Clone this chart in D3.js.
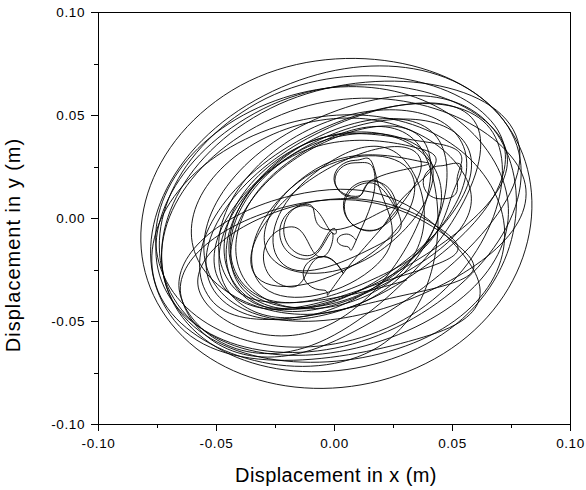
<!DOCTYPE html>
<html>
<head>
<meta charset="utf-8">
<script src="https://cdn.jsdelivr.net/npm/d3@7"></script>
<style>
  body { margin: 0; background: #fff; }
  text { font-family: "Liberation Sans", Arial, Helvetica, sans-serif; fill: #000; }
</style>
</head>
<body>
<svg id="chart" width="586" height="490"></svg>
<script>
var majorTicks = [-0.10, -0.05, 0.00, 0.05, 0.10];
var minorTicks = [-0.075, -0.025, 0.025, 0.075];

// orbit (m); one row per turn
var centreLoops = [
    [0.0094, -0.0108], [0.0054, -0.0078], [0.0014, -0.0108], [0.0054, -0.0138], [0.0094, -0.0108],
    [0.0174, 0.0183], [0.0089, 0.0268], [0.0004, 0.0183], [0.0089, 0.0098], [0.0174, 0.0183],
    [0.0260, 0.0054], [0.0152, 0.0171], [0.0044, 0.0054], [0.0152, -0.0063], [0.0260, 0.0054],
    [-0.0013, -0.0058], [-0.0113, 0.0067], [-0.0213, -0.0058], [-0.0113, -0.0183], [-0.0013, -0.0058],
    [-0.0010, -0.0070], [-0.0120, 0.0060], [-0.0230, -0.0070], [-0.0120, -0.0200], [-0.0010, -0.0070],
    [-0.0059, -0.0189], [-0.0179, -0.0043], [-0.0299, -0.0189], [-0.0179, -0.0335], [-0.0059, -0.0189],
    [0.0039, -0.0269], [-0.0046, -0.0188], [-0.0131, -0.0269], [-0.0046, -0.0350], [0.0039, -0.0269]
];

var innerLoops = [
    [0.0365, 0.0289], [-0.0121, 0.0169], [-0.0325, -0.0289], [0.0161, -0.0169],
    [0.0297, 0.0257], [-0.0184, 0.0144], [-0.0297, -0.0337], [0.0184, -0.0224],
    [0.0180, 0.0195], [0.0090, 0.0280], [0.0000, 0.0190], [0.0092, 0.0105], [0.0180, 0.0195],
    [0.0388, 0.0270], [-0.0078, 0.0237], [-0.0268, -0.0190], [0.0198, -0.0157],
    [0.0372, 0.0335], [-0.0234, 0.0260], [-0.0372, -0.0335], [0.0234, -0.0260],
    [0.0522, 0.0173], [0.0450, 0.0253], [0.0378, 0.0173], [0.0450, 0.0093], [0.0522, 0.0173],
    [0.0414, 0.0365], [-0.0228, 0.0285], [-0.0374, -0.0345], [0.0268, -0.0265]
];

var middleLoops = [
    [0.0369, 0.0321], [-0.0264, 0.0262], [-0.0389, -0.0361], [0.0244, -0.0302],
    [0.0544, 0.0225], [-0.0174, 0.0443], [-0.0584, -0.0185], [0.0134, -0.0403],
    [0.0446, 0.0375], [-0.0224, 0.0282], [-0.0386, -0.0375], [0.0284, -0.0282],
    [0.0472, -0.0070], [-0.0125, 0.0070], [-0.0572, -0.0350], [0.0025, -0.0490],
    [0.0396, 0.0338], [-0.0217, 0.0243], [-0.0376, -0.0358], [0.0237, -0.0263],
    [0.0548, 0.0376], [-0.0167, 0.0315], [-0.0468, -0.0336], [0.0247, -0.0275]
];

var outerLoops = [
    [0.0693, 0.0410], [-0.0300, 0.0530], [-0.0693, -0.0390], [0.0300, -0.0510],
    [0.0719, 0.0474], [-0.0433, 0.0619], [-0.0689, -0.0514], [0.0463, -0.0659],
    [0.0716, 0.0478], [-0.0370, 0.0547], [-0.0676, -0.0498], [0.0410, -0.0567],
    [0.0470, -0.0080], [-0.0181, 0.0108], [-0.0650, -0.0380], [0.0001, -0.0568],
    [0.0617, 0.0410], [-0.0170, 0.0348], [-0.0497, -0.0370], [0.0290, -0.0308],
    [0.0665, 0.0472], [-0.0357, 0.0537], [-0.0645, -0.0446], [0.0377, -0.0511],
    [0.0650, 0.0327], [-0.0284, 0.0554], [-0.0710, -0.0307], [0.0224, -0.0534],
    [0.0684, 0.0392], [-0.0160, 0.0369], [-0.0524, -0.0392], [0.0320, -0.0369],
    [0.0527, -0.0135], [-0.0131, 0.0073], [-0.0647, -0.0385], [0.0011, -0.0593],
    [0.0779, 0.0375], [-0.0270, 0.0532], [-0.0659, -0.0455], [0.0390, -0.0612],
    [0.0706, 0.0380], [-0.0140, 0.0446], [-0.0506, -0.0320], [0.0340, -0.0386],
    [0.0765, 0.0278], [-0.0222, 0.0502], [-0.0685, -0.0398], [0.0302, -0.0622],
    [0.0665, 0.0157], [-0.0238, 0.0445], [-0.0745, -0.0357], [0.0158, -0.0645]
];

var returnLoops = [
    [0.0384, 0.0308], [-0.0221, 0.0247], [-0.0344, -0.0348], [0.0261, -0.0287],
    [0.0295, 0.0285], [-0.0116, 0.0186], [-0.0215, -0.0225], [0.0196, -0.0126],
    [0.0265, 0.0060], [0.0150, 0.0180], [0.0040, 0.0060], [0.0150, -0.0060], [0.0265, 0.0060],
    [0.0381, 0.0331], [-0.0261, 0.0237], [-0.0421, -0.0391], [0.0221, -0.0297],
    [0.0523, 0.0400], [-0.0209, 0.0361], [-0.0423, -0.0340], [0.0309, -0.0301]
];

var trajectory = centreLoops.concat(innerLoops, middleLoops, outerLoops, returnLoops);

var margin = {top: 12, right: 16, bottom: 66, left: 98},
    width = 586 - margin.left - margin.right,
    height = 490 - margin.top - margin.bottom;

var xScale = d3.scaleLinear().domain([-0.1, 0.1]).range([0, width]);
var yScale = d3.scaleLinear().domain([-0.1, 0.1]).range([height, 0]);

var svg = d3.select("#chart")
    .append("g")
    .attr("transform", "translate(" + margin.left + "," + margin.top + ")");

var fmt = function(d) { return d.toFixed(2); };

function styleTicks(g) {
    g.select(".domain").remove();
    g.selectAll("line").attr("stroke", "#000").attr("shape-rendering", "crispEdges");
    g.selectAll("text")
        .attr("font-family", "'Liberation Sans', Arial, sans-serif")
        .attr("font-size", 13.5)
        .style("letter-spacing", "0.6px")
        .attr("fill", "#000");
}

// x axis
svg.append("g")
    .attr("transform", "translate(0," + height + ")")
    .call(d3.axisBottom(xScale).tickValues(minorTicks).tickSize(4).tickSizeOuter(0).tickFormat(""))
    .call(styleTicks);

svg.append("g")
    .attr("transform", "translate(0," + height + ")")
    .call(d3.axisBottom(xScale).tickValues(majorTicks).tickSize(7).tickSizeOuter(0).tickFormat(fmt))
    .call(styleTicks)
    .call(function(g) { g.selectAll("text").attr("y", 14); });

// y axis
svg.append("g")
    .call(d3.axisLeft(yScale).tickValues(minorTicks).tickSize(4).tickSizeOuter(0).tickFormat(""))
    .call(styleTicks);

svg.append("g")
    .call(d3.axisLeft(yScale).tickValues(majorTicks).tickSize(7).tickSizeOuter(0).tickFormat(fmt))
    .call(styleTicks)
    .call(function(g) { g.selectAll("text").attr("x", -13).attr("dy", "0.34em"); });

// frame
svg.append("rect")
    .attr("x", 0)
    .attr("y", 0)
    .attr("width", width)
    .attr("height", height)
    .attr("fill", "none")
    .attr("stroke", "#000")
    .attr("stroke-width", 1)
    .attr("shape-rendering", "crispEdges");

svg.append("clipPath")
    .attr("id", "plot-clip")
    .append("rect")
    .attr("width", width)
    .attr("height", height);

var line = d3.line()
    .x(function(d) { return xScale(d[0]); })
    .y(function(d) { return yScale(d[1]); })
    .curve(d3.curveCardinal.tension(-0.65));

svg.append("path")
    .datum(trajectory)
    .attr("clip-path", "url(#plot-clip)")
    .attr("fill", "none")
    .attr("stroke", "#000")
    .attr("stroke-width", 0.9)
    .attr("d", line);

// axis titles
d3.select("#chart").append("text")
    .attr("x", margin.left + width / 2 + 2)
    .attr("y", 482)
    .attr("text-anchor", "middle")
    .attr("font-size", 20)
    .style("letter-spacing", "0.4px")
    .text("Displacement in x (m)");

d3.select("#chart").append("text")
    .attr("transform", "translate(20,245) rotate(-90)")
    .attr("text-anchor", "middle")
    .attr("font-size", 20)
    .style("letter-spacing", "1px")
    .text("Displacement in y (m)");
</script>
</body>
</html>
